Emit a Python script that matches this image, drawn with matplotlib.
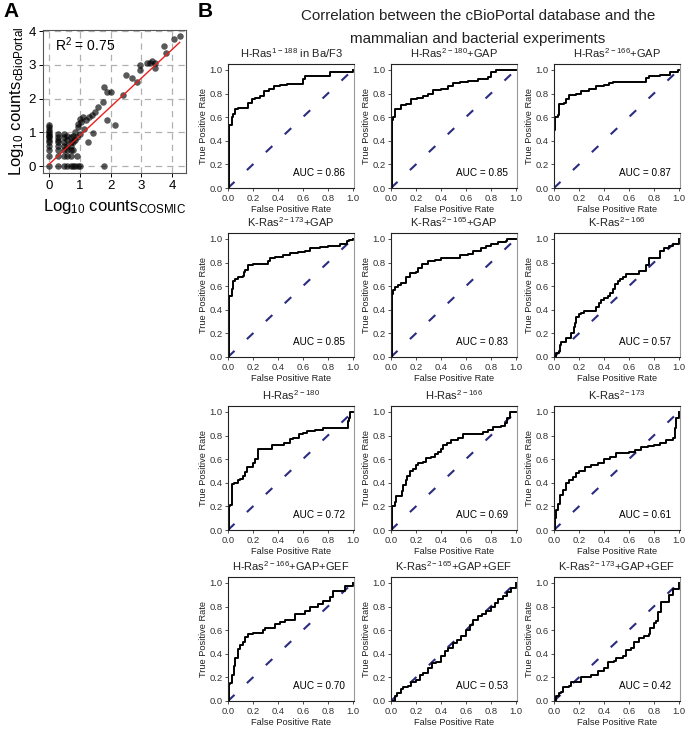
import numpy as np
import matplotlib
matplotlib.use('Agg')
import matplotlib.pyplot as plt

plt.rcParams['font.family'] = ['Liberation Sans', 'DejaVu Sans']
plt.rcParams['mathtext.default'] = 'regular'

W, H = 694, 734

# ---- panel A data (log10 counts) ----
cosmic_x = [0, 0, 0, 0, 0, 0, 0, 0, 0, 0, 0, 0, 0,
            0.30, 0.30, 0.30, 0.30, 0.30, 0.30, 0.30, 0.30,
            0.48, 0.48, 0.48, 0.48, 0.48, 0.48, 0.48,
            0.60, 0.60, 0.60, 0.60, 0.60, 0.60,
            0.70, 0.70, 0.70, 0.70, 0.70, 0.70,
            0.78, 0.78, 0.78, 0.78, 0.85, 0.85, 0.85, 0.90, 0.90, 0.95, 0.95, 1.0, 1.0,
            1.0, 1.05, 0.95, 1.1, 1.15, 1.2, 1.26, 1.3, 1.4, 1.44, 1.5, 1.6, 1.75,
            1.8, 1.9, 1.9, 2.0, 2.16, 2.4, 2.5, 2.7, 2.85, 2.95, 2.95,
            3.2, 3.3, 3.35, 3.45, 3.45, 3.75, 3.8, 4.05, 4.25, 1.8]
cbio_y = [0, 0.30, 0.48, 0.60, 0.70, 0.78, 0.85, 0.90, 0.95, 1.0, 1.08, 1.15, 1.23,
          0, 0.30, 0.48, 0.60, 0.70, 0.78, 0.85, 0.95,
          0, 0.30, 0.48, 0.60, 0.70, 0.85, 0.95,
          0, 0.30, 0.48, 0.60, 0.78, 0.90,
          0, 0.30, 0.48, 0.60, 0.70, 0.85,
          0, 0.48, 0.70, 0.90, 0, 0.78, 1.0, 0.30, 0.85, 0, 1.25, 0, 0.95,
          1.4, 1.3, 1.15, 1.45, 1.1, 1.35, 0.71, 1.45, 1.5, 0.99, 1.6, 1.75, 1.9,
          2.35, 2.2, 1.36, 2.2, 1.22, 2.1, 2.7, 2.6, 2.5, 3.0, 2.85,
          3.05, 3.05, 3.1, 2.9, 3.05, 3.55, 3.35, 3.75, 3.85, 0]
fit_slope = 0.85
fit_intercept = 0.05
r2_text = 'R$^2$ = 0.75'

# ---- panel B data: ROC curves ----
titles = ['H-Ras$^{1-188}$ in Ba/F3', 'H-Ras$^{2-180}$+GAP', 'H-Ras$^{2-166}$+GAP',
          'K-Ras$^{2-173}$+GAP', 'K-Ras$^{2-165}$+GAP', 'K-Ras$^{2-166}$',
          'H-Ras$^{2-180}$', 'H-Ras$^{2-166}$', 'K-Ras$^{2-173}$',
          'H-Ras$^{2-166}$+GAP+GEF', 'K-Ras$^{2-165}$+GAP+GEF', 'K-Ras$^{2-173}$+GAP+GEF']
aucs = [0.86, 0.85, 0.87, 0.85, 0.83, 0.57, 0.72, 0.69, 0.61, 0.70, 0.53, 0.42]

fpr1 = [0, 0.005, 0.005, 0.01, 0.03, 0.04, 0.06, 0.08, 0.14, 0.16, 0.19, 0.22, 0.26, 0.29, 0.33, 0.37, 0.42, 0.47, 0.57, 0.60, 0.62, 0.80, 0.82, 0.97, 1.0]
tpr1 = [0, 0.17, 0.43, 0.53, 0.60, 0.63, 0.67, 0.68, 0.68, 0.72, 0.75, 0.76, 0.78, 0.82, 0.84, 0.86, 0.87, 0.88, 0.88, 0.92, 0.95, 0.95, 0.98, 0.98, 1.0]
fpr2 = [0, 0.005, 0.01, 0.02, 0.03, 0.06, 0.08, 0.12, 0.16, 0.21, 0.26, 0.30, 0.34, 0.40, 0.46, 0.50, 0.55, 0.62, 0.70, 0.78, 0.80, 0.84, 1.0]
tpr2 = [0, 0.47, 0.58, 0.60, 0.67, 0.67, 0.70, 0.71, 0.75, 0.76, 0.78, 0.80, 0.83, 0.84, 0.86, 0.89, 0.90, 0.91, 0.92, 0.94, 0.98, 1.0, 1.0]
fpr3 = [0, 0.003, 0.01, 0.03, 0.04, 0.08, 0.10, 0.12, 0.18, 0.22, 0.28, 0.34, 0.40, 0.44, 0.47, 0.72, 0.74, 0.76, 0.85, 0.93, 0.99, 1.0]
tpr3 = [0, 0.49, 0.60, 0.62, 0.71, 0.72, 0.75, 0.79, 0.80, 0.82, 0.84, 0.86, 0.87, 0.89, 0.90, 0.90, 0.93, 0.95, 0.96, 0.98, 1.0, 1.0]
fpr4 = [0, 0.005, 0.02, 0.03, 0.04, 0.06, 0.08, 0.12, 0.13, 0.14, 0.16, 0.20, 0.28, 0.32, 0.34, 0.38, 0.44, 0.50, 0.56, 0.62, 0.66, 0.74, 0.80, 0.90, 0.95, 0.97, 1.0]
tpr4 = [0, 0.52, 0.52, 0.58, 0.64, 0.66, 0.68, 0.69, 0.72, 0.74, 0.78, 0.79, 0.79, 0.81, 0.84, 0.85, 0.86, 0.88, 0.89, 0.90, 0.92, 0.93, 0.94, 0.96, 0.98, 0.99, 1.0]
fpr5 = [0, 0.005, 0.01, 0.02, 0.03, 0.06, 0.08, 0.11, 0.12, 0.15, 0.20, 0.22, 0.25, 0.30, 0.35, 0.40, 0.52, 0.55, 0.62, 0.66, 0.72, 0.76, 0.80, 0.86, 0.92, 0.93, 1.0]
tpr5 = [0, 0.27, 0.53, 0.57, 0.59, 0.61, 0.63, 0.63, 0.68, 0.71, 0.72, 0.75, 0.79, 0.81, 0.82, 0.84, 0.84, 0.86, 0.87, 0.90, 0.92, 0.94, 0.96, 0.97, 0.98, 1.0, 1.0]
fpr6 = [0, 0.02, 0.04, 0.05, 0.06, 0.09, 0.10, 0.12, 0.14, 0.16, 0.17, 0.18, 0.20, 0.22, 0.24, 0.32, 0.34, 0.36, 0.38, 0.40, 0.43, 0.45, 0.47, 0.49, 0.51, 0.53, 0.55, 0.58, 0.66, 0.68, 0.72, 0.74, 0.76, 0.84, 0.85, 0.88, 0.92, 0.95, 1.0]
tpr6 = [0, 0.03, 0.05, 0.10, 0.13, 0.13, 0.16, 0.16, 0.20, 0.25, 0.29, 0.34, 0.36, 0.37, 0.39, 0.39, 0.42, 0.46, 0.48, 0.50, 0.52, 0.54, 0.58, 0.62, 0.64, 0.66, 0.68, 0.70, 0.70, 0.73, 0.73, 0.78, 0.84, 0.84, 0.90, 0.92, 0.94, 0.96, 1.0]
fpr7 = [0, 0.005, 0.02, 0.03, 0.035, 0.05, 0.08, 0.10, 0.12, 0.14, 0.15, 0.18, 0.20, 0.22, 0.24, 0.30, 0.35, 0.42, 0.45, 0.50, 0.52, 0.57, 0.60, 0.63, 0.70, 0.76, 0.95, 0.96, 0.97, 0.98, 1.0]
tpr7 = [0, 0.20, 0.21, 0.24, 0.39, 0.40, 0.42, 0.43, 0.46, 0.49, 0.53, 0.53, 0.57, 0.60, 0.69, 0.69, 0.72, 0.72, 0.74, 0.77, 0.78, 0.81, 0.82, 0.84, 0.85, 0.86, 0.86, 0.92, 0.95, 1.0, 1.0]
fpr8 = [0, 0.005, 0.01, 0.03, 0.04, 0.08, 0.09, 0.10, 0.12, 0.13, 0.15, 0.18, 0.20, 0.22, 0.26, 0.28, 0.32, 0.35, 0.38, 0.40, 0.42, 0.45, 0.48, 0.52, 0.54, 0.58, 0.70, 0.74, 0.78, 0.82, 0.88, 0.91, 0.93, 0.95, 1.0]
tpr8 = [0, 0.18, 0.20, 0.24, 0.29, 0.29, 0.33, 0.38, 0.42, 0.46, 0.50, 0.52, 0.55, 0.57, 0.58, 0.61, 0.62, 0.64, 0.66, 0.69, 0.72, 0.74, 0.76, 0.76, 0.78, 0.81, 0.81, 0.83, 0.85, 0.87, 0.88, 0.91, 0.95, 1.0, 1.0]
fpr9 = [0, 0.005, 0.02, 0.03, 0.05, 0.07, 0.10, 0.12, 0.15, 0.18, 0.20, 0.25, 0.30, 0.35, 0.40, 0.45, 0.50, 0.55, 0.60, 0.65, 0.70, 0.75, 0.80, 0.85, 0.90, 0.95, 0.97, 0.98, 1.0]
tpr9 = [0, 0.10, 0.17, 0.22, 0.30, 0.34, 0.40, 0.42, 0.45, 0.48, 0.50, 0.53, 0.55, 0.57, 0.60, 0.62, 0.65, 0.65, 0.66, 0.68, 0.70, 0.71, 0.72, 0.74, 0.76, 0.78, 0.86, 0.95, 1.0]
fpr10 = [0, 0.005, 0.02, 0.03, 0.05, 0.06, 0.08, 0.10, 0.12, 0.14, 0.16, 0.20, 0.26, 0.28, 0.30, 0.36, 0.38, 0.42, 0.46, 0.52, 0.54, 0.58, 0.62, 0.66, 0.72, 0.76, 0.82, 0.84, 0.90, 0.94, 1.0]
tpr10 = [0, 0.14, 0.15, 0.22, 0.30, 0.36, 0.44, 0.47, 0.50, 0.54, 0.57, 0.58, 0.58, 0.60, 0.62, 0.62, 0.65, 0.67, 0.69, 0.69, 0.74, 0.74, 0.76, 0.80, 0.82, 0.85, 0.88, 0.93, 0.93, 0.97, 1.0]
fpr11 = [0, 0.03, 0.05, 0.08, 0.10, 0.14, 0.16, 0.20, 0.23, 0.26, 0.30, 0.33, 0.36, 0.40, 0.43, 0.46, 0.50, 0.53, 0.56, 0.60, 0.63, 0.66, 0.70, 0.73, 0.76, 0.80, 0.83, 0.86, 0.90, 0.93, 0.96, 1.0]
tpr11 = [0, 0.04, 0.07, 0.10, 0.12, 0.13, 0.16, 0.18, 0.22, 0.24, 0.28, 0.32, 0.33, 0.38, 0.42, 0.45, 0.49, 0.52, 0.55, 0.60, 0.64, 0.69, 0.72, 0.74, 0.76, 0.80, 0.83, 0.86, 0.89, 0.92, 0.96, 1.0]
fpr12 = [0, 0.02, 0.04, 0.06, 0.07, 0.12, 0.14, 0.20, 0.22, 0.30, 0.35, 0.40, 0.43, 0.48, 0.50, 0.55, 0.58, 0.62, 0.64, 0.68, 0.72, 0.76, 0.77, 0.80, 0.82, 0.83, 0.86, 0.90, 0.92, 0.95, 1.0]
tpr12 = [0, 0.04, 0.07, 0.08, 0.12, 0.13, 0.16, 0.16, 0.20, 0.22, 0.25, 0.28, 0.33, 0.34, 0.36, 0.38, 0.43, 0.45, 0.50, 0.53, 0.55, 0.57, 0.62, 0.66, 0.68, 0.75, 0.84, 0.84, 0.90, 0.95, 1.0]

fprs = [fpr1, fpr2, fpr3, fpr4, fpr5, fpr6, fpr7, fpr8, fpr9, fpr10, fpr11, fpr12]
tprs = [tpr1, tpr2, tpr3, tpr4, tpr5, tpr6, tpr7, tpr8, tpr9, tpr10, tpr11, tpr12]


def px_axes(fig, left, top, width, height):
    return fig.add_axes([left / W, 1 - (top + height) / H, width / W, height / H])


fig = plt.figure(figsize=(W / 100, H / 100), dpi=100)

# ---------------- panel A ----------------
ax = px_axes(fig, 43, 30, 143, 143)
ax.set_xlim(-0.195, 4.455)
ax.set_ylim(-0.207, 4.03)
for v in range(5):
    ax.axvline(v, color='#b0b0b0', lw=0.9, ls=(0, (5, 4)), zorder=0)
    ax.axhline(v, color='#b0b0b0', lw=0.9, ls=(0, (5, 4)), zorder=0)
ax.scatter(cosmic_x, cbio_y, s=22, color='black', alpha=0.65, lw=0, zorder=2)
xx = np.array([0, 4.25])
ax.plot(xx, fit_intercept + fit_slope * xx, color='#e8201e', lw=1.0, zorder=3)
ax.text(0.2, 3.6, r2_text, fontsize=10, va='center')
ax.set_xticks(range(5))
ax.set_yticks(range(5))
ax.tick_params(labelsize=9.5, length=3, width=0.7, pad=2)
for s in ax.spines.values():
    s.set_color('#555555')
    s.set_linewidth(0.8)
ax.set_xlabel('Log$_{10}$ counts$_{COSMIC}$', fontsize=12, labelpad=4)
ax.set_ylabel('Log$_{10}$ counts$_{cBioPortal}$', fontsize=12, labelpad=2)

fig.text(3 / W, 1 - 2 / H, 'A', fontsize=15, fontweight='bold', va='top')
fig.text(198 / W, 1 - 2 / H, 'B', fontsize=15, fontweight='bold', va='top')
fig.text(478 / W, 1 - 16 / H, 'Correlation between the cBioPortal database and the',
         fontsize=10.9, ha='center', va='center', color='#222222')
fig.text(478 / W, 1 - 39 / H, 'mammalian and bacterial experiments',
         fontsize=10.9, ha='center', va='center', color='#222222')

# ---------------- panel B ----------------
col_left = [228, 391, 554]
row_top = [64, 233, 406, 577]
ticks = np.arange(0, 1.01, 0.2)
for i in range(12):
    r, c = divmod(i, 3)
    a = px_axes(fig, col_left[c], row_top[r], 126, 124)
    a.plot([0, 1], [0, 1], color='#2b2b80', lw=1.5, dashes=(4.3, 8.2), zorder=1)
    a.plot(fprs[i], tprs[i], color='black', lw=1.4, drawstyle='steps-post', zorder=2)
    a.set_xlim(0, 1.01)
    a.set_ylim(0, 1.05)
    a.set_xticks(ticks)
    a.set_yticks(ticks)
    a.set_xticklabels(['%.1f' % v for v in ticks])
    a.set_yticklabels(['%.1f' % v for v in ticks])
    a.tick_params(labelsize=6.8, length=2.5, width=0.6, pad=1.5, colors='#333333')
    for s in a.spines.values():
        s.set_linewidth(0.8)
        s.set_color('#222222')
    a.spines['right'].set_color('#999999')
    a.set_xlabel('False Positive Rate', fontsize=6.7, labelpad=2, color='#222222')
    a.set_ylabel('True Positive Rate', fontsize=6.7, labelpad=1, color='#222222')
    a.set_title(titles[i], fontsize=8, pad=4, color='#222222')
    a.text(0.93, 0.12, 'AUC = %.2f' % aucs[i], fontsize=7.2, ha='right', va='center',
           transform=a.transAxes)

fig.savefig('out.png', dpi=100)
